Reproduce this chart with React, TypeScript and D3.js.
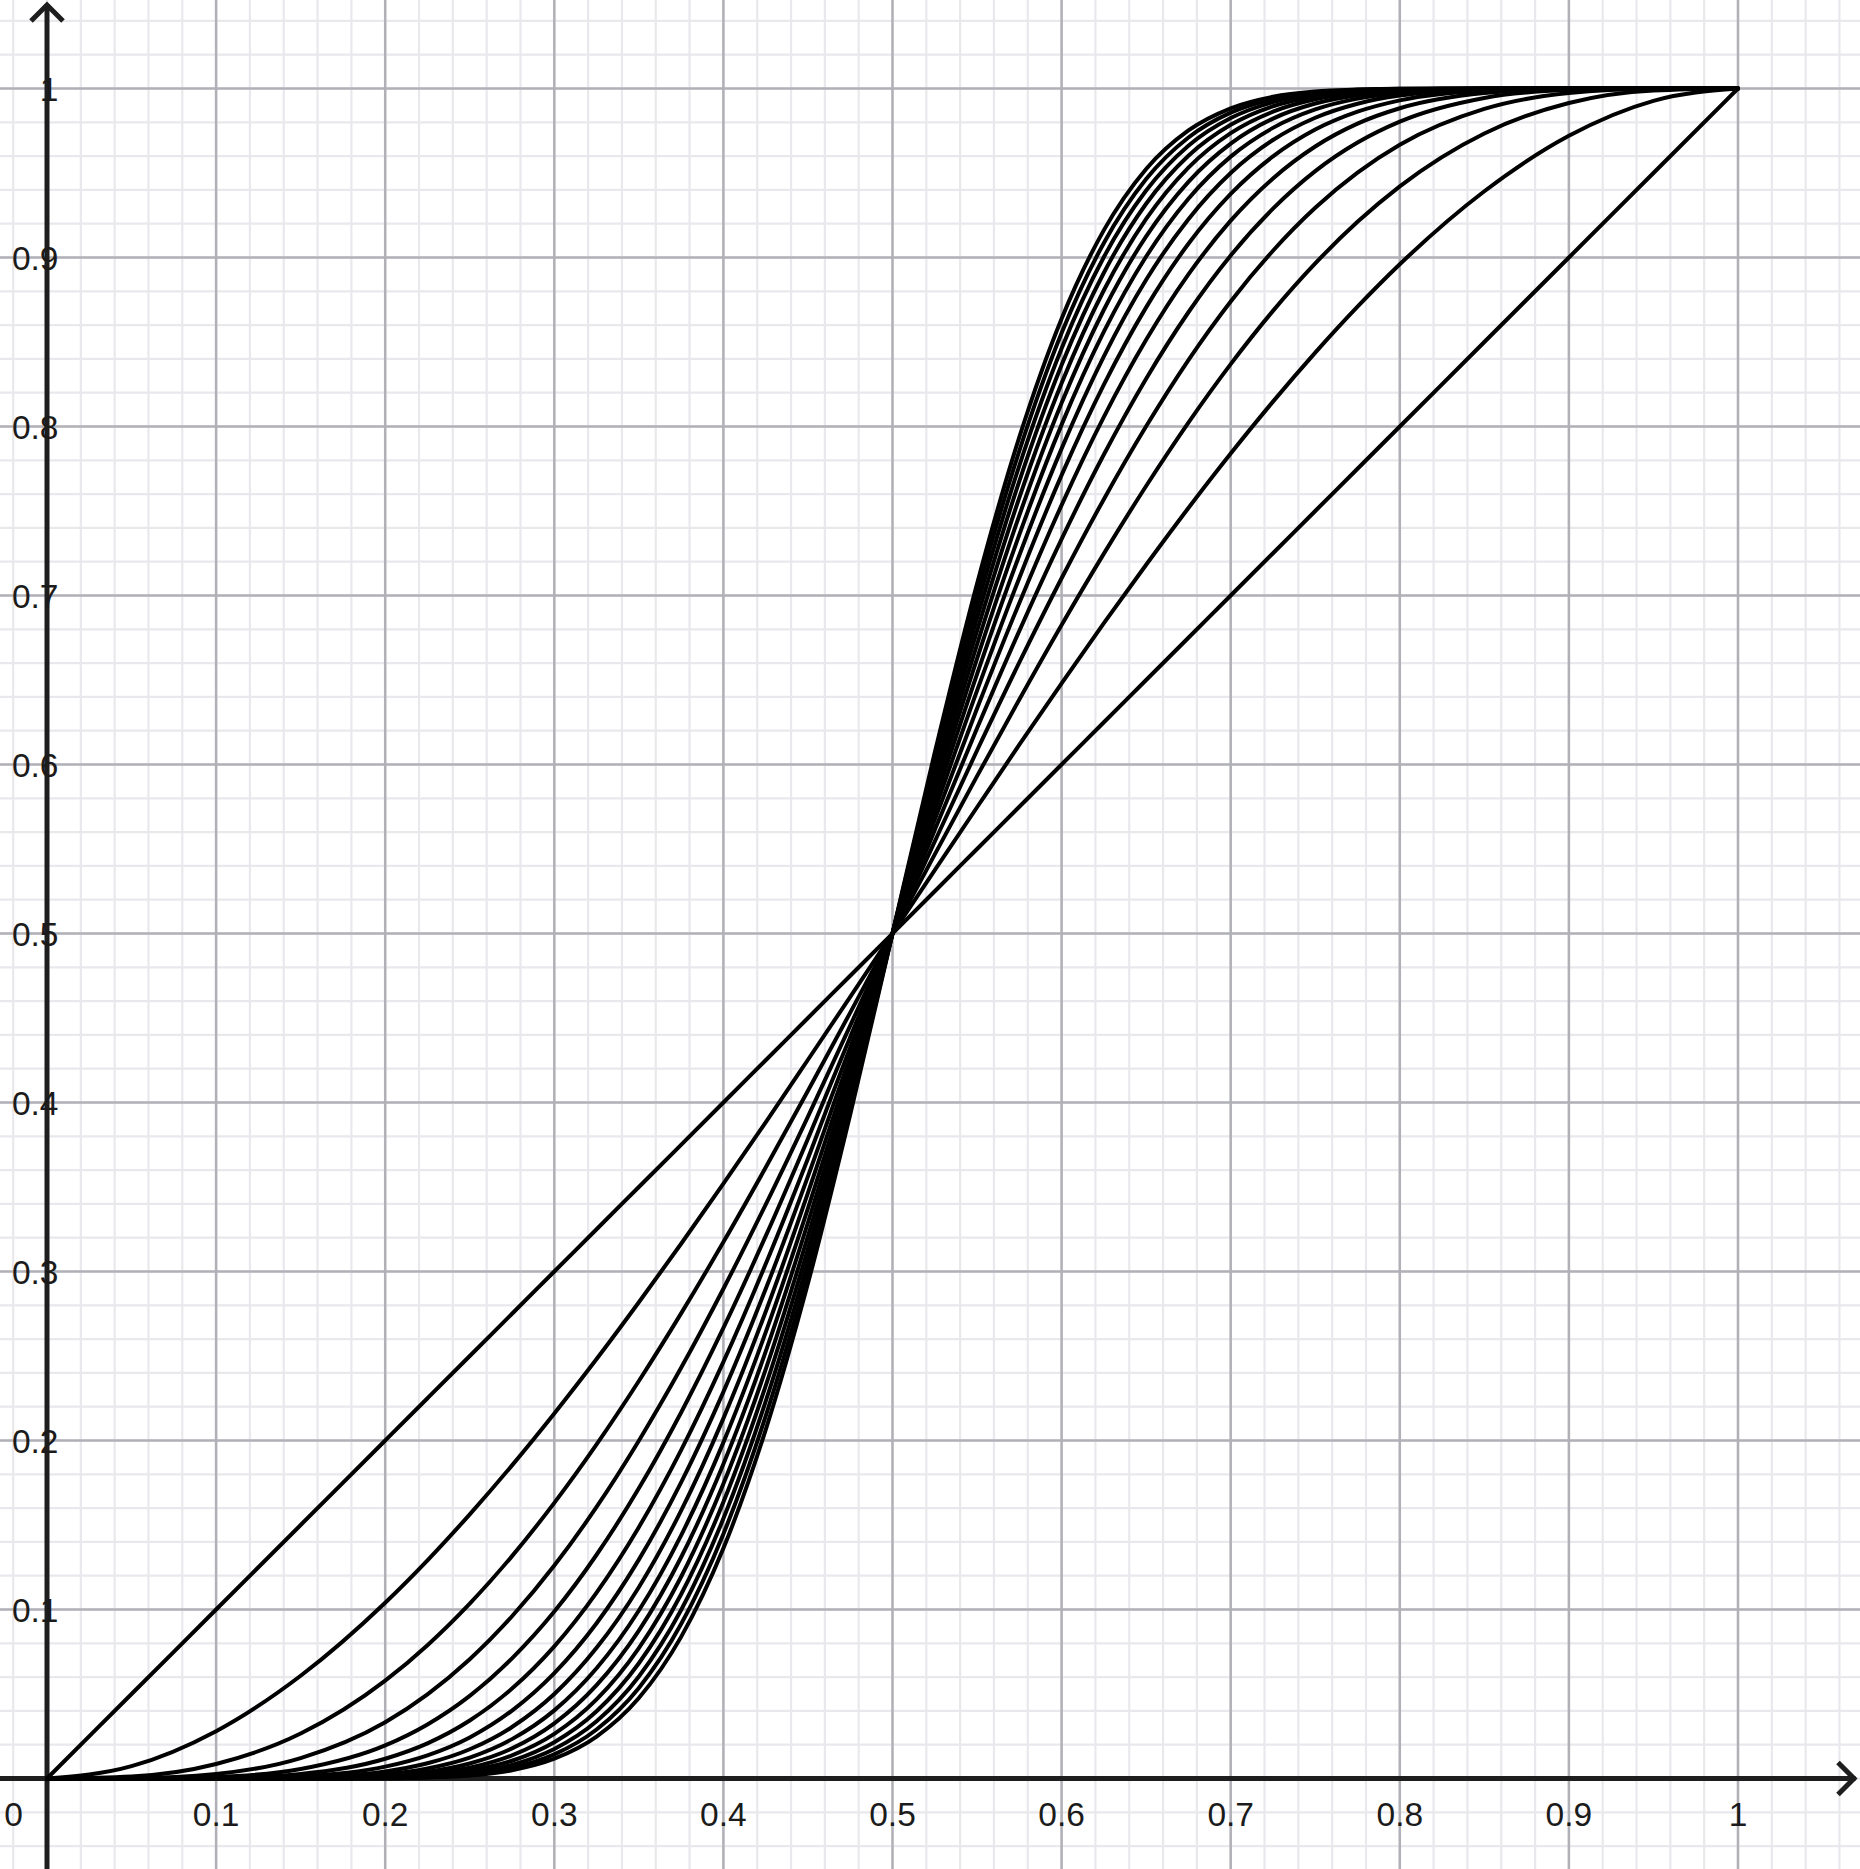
import * as d3 from "d3";

// sample positions along x (denser in the middle where curves bend most)
const sampleX = [0, 0.05, 0.1, 0.15, 0.2, 0.225, 0.25, 0.275, 0.3, 0.325, 0.35, 0.375, 0.4, 0.425, 0.45, 0.475, 0.5,
  0.525, 0.55, 0.575, 0.6, 0.625, 0.65, 0.675, 0.7, 0.725, 0.75, 0.775, 0.8, 0.85, 0.9, 0.95, 1];

// one series per curve, from the straight line to the steepest s-curve
const s0 = [0, .05, .1, .15, .2, .225, .25, .275, .3, .325, .35, .375, .4, .425, .45, .475, .5, .525, .55, .575, .6, .625, .65, .675, .7, .725, .75, .775, .8, .85, .9, .95, 1];
const s1 = [0, .0073, .028, .0608, .104, .1291, .1563, .1853, .216, .2482, .2818, .3164, .352, .3883, .4253, .4625, .5, .5375, .5747, .6117, .648, .6836, .7182, .7518, .784, .8147, .8437, .8709, .896, .9392, .972, .9927, 1];
const s2 = [0, .0012, .0086, .0266, .0579, .0789, .1035, .1316, .1631, .1977, .2352, .2752, .3174, .3615, .4069, .4532, .5, .5468, .5931, .6385, .6826, .7248, .7648, .8023, .8369, .8684, .8965, .9211, .9421, .9734, .9914, .9988, 1];
const s3 = [0, .0002, .0027, .0121, .0333, .0498, .0706, .096, .126, .1607, .1999, .243, .2898, .3396, .3917, .4455, .5, .5545, .6083, .6604, .7102, .757, .8001, .8393, .874, .904, .9294, .9502, .9667, .9879, .9973, .9998, 1];
const s4 = [0, 0, .0009, .0056, .0196, .032, .0489, .0711, .0988, .1324, .1717, .2166, .2666, .3209, .3786, .4387, .5, .5613, .6214, .6791, .7334, .7834, .8283, .8676, .9012, .9289, .9511, .968, .9804, .9944, .9991, 1, 1];
const s5 = [0, 0, .0003, .0027, .0117, .0208, .0343, .0532, .0782, .11, .1487, .1943, .2465, .3044, .3669, .4326, .5, .5674, .6331, .6956, .7535, .8057, .8513, .89, .9218, .9468, .9657, .9792, .9883, .9973, .9997, 1, 1];
const s6 = [0, 0, .0001, .0013, .007, .0137, .0243, .0402, .0624, .0919, .1295, .1752, .2288, .2896, .3563, .4271, .5, .5729, .6437, .7104, .7712, .8248, .8705, .9081, .9376, .9598, .9757, .9863, .993, .9987, .9999, 1, 1];
const s7 = [0, 0, 0, .0006, .0042, .009, .0173, .0305, .05, .0773, .1132, .1585, .2131, .2762, .3465, .4219, .5, .5781, .6535, .7238, .7869, .8415, .8868, .9227, .95, .9695, .9827, .991, .9958, .9994, 1, 1, 1];
const s8 = [0, 0, 0, .0003, .0026, .006, .0124, .0233, .0403, .0652, .0994, .1439, .1989, .264, .3374, .4171, .5, .5829, .6626, .736, .8011, .8561, .9006, .9348, .9597, .9767, .9876, .994, .9974, .9997, 1, 1, 1];
const s9 = [0, 0, 0, .0001, .0016, .004, .0089, .0178, .0326, .0552, .0875, .1309, .1861, .2526, .329, .4126, .5, .5874, .671, .7474, .8139, .8691, .9125, .9448, .9674, .9822, .9911, .996, .9984, .9999, 1, 1, 1];
const s10 = [0, 0, 0, .0001, .001, .0027, .0064, .0137, .0264, .0468, .0772, .1194, .1744, .2421, .321, .4083, .5, .5917, .679, .7579, .8256, .8806, .9228, .9532, .9736, .9863, .9936, .9973, .999, .9999, 1, 1, 1];
const s11 = [0, 0, 0, 0, .0006, .0018, .0047, .0105, .0215, .0398, .0682, .109, .1636, .2323, .3135, .4042, .5, .5958, .6865, .7677, .8364, .891, .9318, .9602, .9785, .9895, .9953, .9982, .9994, 1, 1, 1, 1];
const s12 = [0, 0, 0, 0, .0004, .0012, .0034, .0081, .0175, .0339, .0604, .0997, .1538, .2231, .3063, .4003, .5, .5997, .6937, .7769, .8462, .9003, .9396, .9661, .9825, .9919, .9966, .9988, .9996, 1, 1, 1, 1];
const s13 = [0, 0, 0, 0, .0002, .0008, .0025, .0063, .0143, .029, .0536, .0914, .1447, .2144, .2995, .3965, .5, .6035, .7005, .7856, .8553, .9086, .9464, .971, .9857, .9937, .9975, .9992, .9998, 1, 1, 1, 1];
const s14 = [0, 0, 0, 0, .0001, .0006, .0018, .0049, .0117, .0248, .0476, .0838, .1362, .2063, .293, .3929, .5, .6071, .707, .7937, .8638, .9162, .9524, .9752, .9883, .9951, .9982, .9994, .9999, 1, 1, 1, 1];

const curves = [s0, s1, s2, s3, s4, s5, s6, s7, s8, s9, s10, s11, s12, s13, s14];

const tickValues = [0.1, 0.2, 0.3, 0.4, 0.5, 0.6, 0.7, 0.8, 0.9, 1];
const tickLabels = ["0.1", "0.2", "0.3", "0.4", "0.5", "0.6", "0.7", "0.8", "0.9", "1"];

const W = 1860;
const H = 1869;

export default function App() {
  const x = d3.scaleLinear().domain([0, 1]).range([47, 1738]);
  const y = d3.scaleLinear().domain([0, 1]).range([1778.5, 88.5]);

  const line = d3.line<[number, number]>()
    .x(d => x(d[0]))
    .y(d => y(d[1]))
    .curve(d3.curveMonotoneX);

  // minor grid every 0.02, inside the visible window
  const minorX = d3.range(-2, 54).map(i => i * 0.02);
  const minorY = d3.range(-2, 53).map(i => i * 0.02);

  const x0 = x(0);
  const y0 = y(0);
  const font = "'Liberation Sans', Arial, Helvetica, sans-serif";

  return (
    <svg width={W} height={H} style={{ position: "absolute", left: 0, top: 0, background: "#fff" }}>
      <rect width={W} height={H} fill="#fff" />
      {/* minor grid */}
      <g stroke="#e9e9ed" strokeWidth={2.2}>
        {minorX.map((v, i) => <line key={"mx" + i} x1={x(v)} x2={x(v)} y1={0} y2={H} />)}
        {minorY.map((v, i) => <line key={"my" + i} x1={0} x2={W} y1={y(v)} y2={y(v)} />)}
      </g>
      {/* major grid */}
      <g stroke="#b0b0b7" strokeWidth={2.5}>
        {tickValues.map((v, i) => <line key={"Mx" + i} x1={x(v)} x2={x(v)} y1={0} y2={H} />)}
        {tickValues.map((v, i) => <line key={"My" + i} x1={0} x2={W} y1={y(v)} y2={y(v)} />)}
      </g>
      {/* axes */}
      <g stroke="#1e1e1e" strokeWidth={5} fill="none" strokeLinecap="square">
        <line x1={0} x2={1853} y1={y0} y2={y0} />
        <line x1={x0} x2={x0} y1={H} y2={7} />
        <polyline points={`${1838},${y0 - 16} ${1854},${y0} ${1838},${y0 + 16}`} strokeLinejoin="miter" strokeLinecap="butt" />
        <polyline points={`${x0 - 16},${21} ${x0},${5} ${x0 + 16},${21}`} strokeLinejoin="miter" strokeLinecap="butt" />
      </g>
      {/* tick labels */}
      <g fontFamily={font} fontSize={33.5} fill="#1b1b1b">
        {tickValues.map((v, i) => (
          <text key={"lx" + i} x={x(v)} y={y0 + 47.5} textAnchor="middle">{tickLabels[i]}</text>
        ))}
        <text x={23} y={y0 + 47.5} textAnchor="end">0</text>
        {tickValues.map((v, i) => (
          <text key={"ly" + i} x={58.5} y={y(v) + 12.5} textAnchor="end">{tickLabels[i]}</text>
        ))}
      </g>
      {/* curves */}
      <g fill="none" stroke="#000" strokeWidth={4} strokeLinejoin="round" strokeLinecap="round">
        {curves.map((c, i) => (
          <path key={"c" + i} d={line(sampleX.map((sx, j) => [sx, c[j]] as [number, number])) || ""} />
        ))}
      </g>
    </svg>
  );
}
